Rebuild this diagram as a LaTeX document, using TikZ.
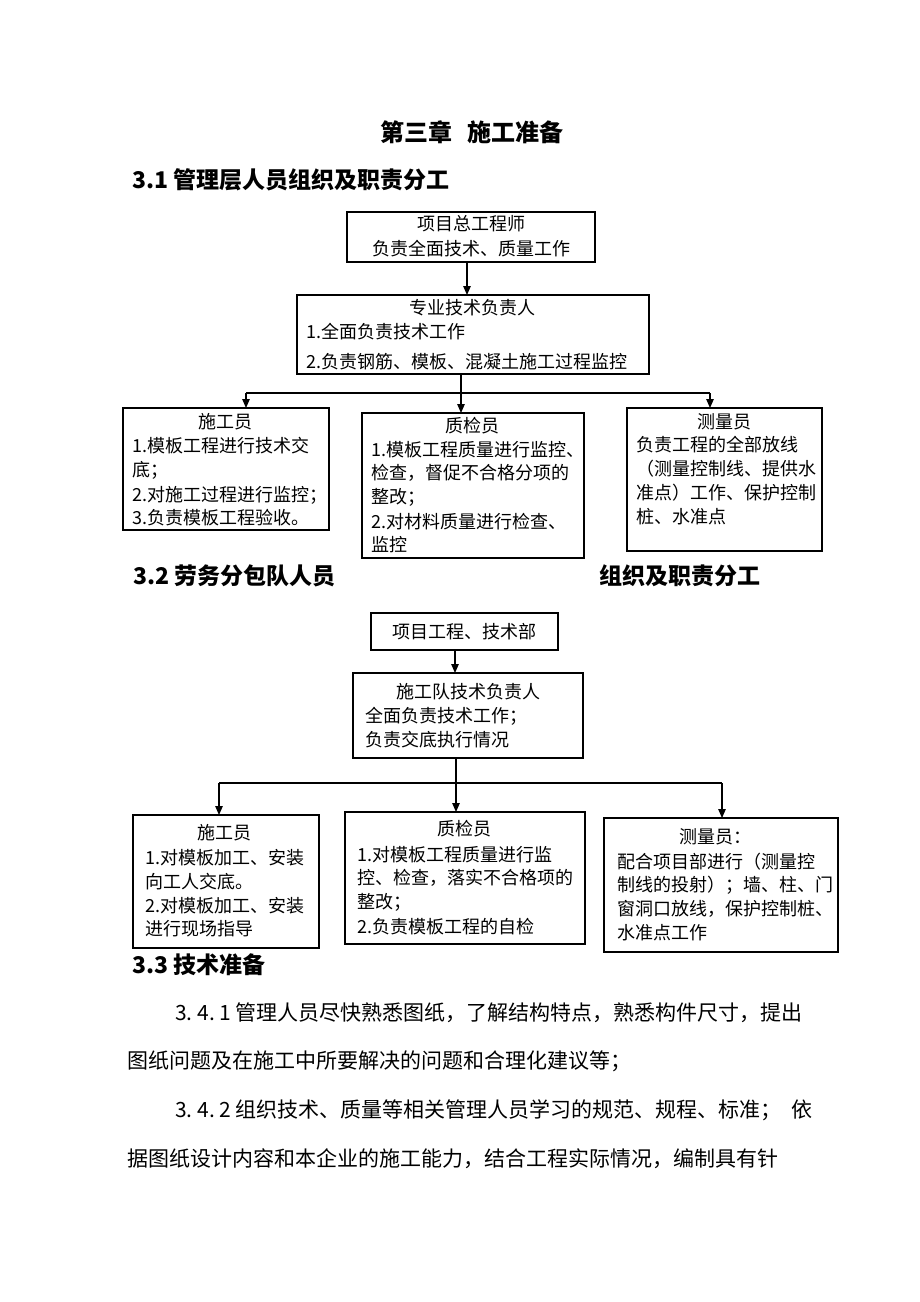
\documentclass[tikz,border=0pt]{standalone}
\usepackage{fontspec}
\setmainfont{Noto Sans CJK SC}
\usetikzlibrary{arrows.meta}
\XeTeXlinebreaklocale "zh"
\XeTeXlinebreakskip=0pt plus 3pt
\begin{document}
\begin{tikzpicture}[x=1pt,y=-1pt,
 box/.style={draw, line width=1.2pt, anchor=north west, inner sep=0pt, outer sep=0pt},
 txt/.style={inner sep=0pt, text height=1.22em, text depth=0em, font=\fontsize{18}{22}\selectfont},
 lt/.style={txt, anchor=west},
 ct/.style={txt, anchor=center},
 hd/.style={inner sep=0pt, text height=1.22em, text depth=0em, font=\fontsize{23}{28}\selectfont\bfseries, anchor=west},
 para/.style={inner sep=0pt, text height=1.22em, text depth=0em, font=\fontsize{21}{26}\selectfont, anchor=west},
 conn/.style={line width=1.2pt},
 arr/.style={conn, -{Triangle[length=9pt,width=7.5pt]}},
]
\fill[white] (0,0) rectangle (920,1302);
\useasboundingbox (0,0) rectangle (920,1302);

% headings
\node[inner sep=0pt, text height=1.22em, text depth=0em, font=\fontsize{24}{28}\selectfont\bfseries, anchor=center] (title) at (472,135) {第三章\hspace{0.6em}施工准备};
\node[hd] (h31) at (132,182) {3.1 管理层人员组织及职责分工};

% chart 1 boxes
\node[box, minimum width=248pt, minimum height=50pt] (b1) at (347,212) {};
\node[box, minimum width=352pt, minimum height=79pt] (b2) at (297,295) {};
\node[box, minimum width=206pt, minimum height=122pt] (p1) at (123,408) {};
\node[box, minimum width=222pt, minimum height=145pt] (p2) at (362,413) {};
\node[box, minimum width=195pt, minimum height=143pt] (p3) at (627,408) {};

\node[ct] (b1t) at (471,224) {项目总工程师};
\node[ct] (b1a) at (471,249) {负责全面技术、质量工作};
\node[ct] (b2t) at (472,308) {专业技术负责人};
\node[lt] (b2a) at (306,332) {1.全面负责技术工作};
\node[lt] (b2b) at (306,362) {2.负责钢筋、模板、混凝土施工过程监控};

\node[ct] (p1t) at (225,422) {施工员};
\node[lt] (p1a) at (132,446) {1.模板工程进行技术交};
\node[lt] (p1b) at (132,470) {底；};
\node[lt] (p1c) at (132,495) {2.对施工过程进行监控；};
\node[lt] (p1d) at (132,518) {3.负责模板工程验收。};

\node[ct] (p2t) at (472,426) {质检员};
\node[lt] (p2a) at (371,450) {1.模板工程质量进行监控、};
\node[lt] (p2b) at (371,473) {检查，督促不合格分项的};
\node[lt] (p2c) at (371,497) {整改；};
\node[lt] (p2d) at (371,522) {2.对材料质量进行检查、};
\node[lt] (p2e) at (371,545) {监控};

\node[ct] (p3t) at (724,422) {测量员};
\node[lt] (p3a) at (636,445) {负责工程的全部放线};
\node[lt] (p3b) at (636,469) {（测量控制线、提供水};
\node[lt] (p3c) at (636,493) {准点）工作、保护控制};
\node[lt] (p3d) at (636,517) {桩、水准点};

% chart 1 connectors
\coordinate (a1) at (467,0);
\coordinate (bus1) at (461,393);
\coordinate (L1) at (246,393);
\coordinate (R1) at (710,393);
\draw[arr] (b1.south -| a1) -- (b2.north -| a1);
\draw[conn] (L1) -- (R1);
\draw[arr] (b2.south -| bus1) -- (p2.north -| bus1);
\draw[arr] (L1) -- (p1.north -| L1);
\draw[arr] (R1) -- (p3.north -| R1);

% section 3.2
\node[hd] (h32) at (133,578) {3.2 劳务分包队人员};
\node[hd] (h32b) at (599,578) {组织及职责分工};

\node[box, minimum width=187pt, minimum height=37pt] (b3) at (371,613) {};
\node[box, minimum width=230pt, minimum height=85pt] (b4) at (353,673) {};
\node[box, minimum width=186pt, minimum height=133pt] (q1) at (133,815) {};
\node[box, minimum width=240pt, minimum height=132pt] (q2) at (345,812) {};
\node[box, minimum width=234pt, minimum height=134pt] (q3) at (604,818) {};

\node[ct] (b3t) at (464,632) {项目工程、技术部};
\node[ct] (b4t) at (468,692) {施工队技术负责人};
\node[lt] (b4a) at (365,716) {全面负责技术工作；};
\node[lt] (b4b) at (365,740) {负责交底执行情况};

\node[ct] (q1t) at (224,833) {施工员};
\node[lt] (q1a) at (145,858) {1.对模板加工、安装};
\node[lt] (q1b) at (145,882) {向工人交底。};
\node[lt] (q1c) at (145,906) {2.对模板加工、安装};
\node[lt] (q1d) at (145,929) {进行现场指导};

\node[ct] (q2t) at (464,829) {质检员};
\node[lt] (q2a) at (357,855) {1.对模板工程质量进行监};
\node[lt] (q2b) at (357,878) {控、检查，落实不合格项的};
\node[lt] (q2c) at (357,902) {整改；};
\node[lt] (q2d) at (357,927) {2.负责模板工程的自检};

\node[ct] (q3t) at (715,837) {测量员：};
\node[lt] (q3a) at (617,862) {配合项目部进行（测量控};
\node[lt] (q3b) at (617,885) {制线的投射）；墙、柱、门};
\node[lt] (q3c) at (617,909) {窗洞口放线，保护控制桩、};
\node[lt] (q3d) at (617,933) {水准点工作};

\coordinate (a3) at (455,0);
\coordinate (bus2) at (456,783);
\coordinate (L2) at (219,783);
\coordinate (R2) at (722,783);
\draw[arr] (b3.south -| a3) -- (b4.north -| a3);
\draw[conn] (L2) -- (R2);
\draw[arr] (b4.south -| bus2) -- (q2.north -| bus2);
\draw[arr] (L2) -- (q1.north -| L2);
\draw[arr] (R2) -- (q3.north -| R2);

% section 3.3
\node[hd] (h33) at (132,967) {3.3 技术准备};
\node[para] (l1) at (175,1014) {\hbox to 636pt{\hbox to 56pt{3.\hfil 4.\hfil 1}\hspace{4pt}管理人员尽快熟悉图纸，了解结构特点，熟悉构件尺寸，提出}};
\node[para] (l2) at (127,1062) {\hbox to 514pt{图纸问题及在施工中所要解决的问题和合理化建议等；}};
\node[para] (l3) at (175,1111) {\hbox to 637pt{\hbox to 56pt{3.\hfil 4.\hfil 2}\hspace{4pt}组织技术、质量等相关管理人员学习的规范、规程、标准；\hfill 依}};
\node[para] (l4) at (127,1160) {\hbox to 679pt{据图纸设计内容和本企业的施工能力，结合工程实际情况，编制具有针}};
\end{tikzpicture}
\end{document}
